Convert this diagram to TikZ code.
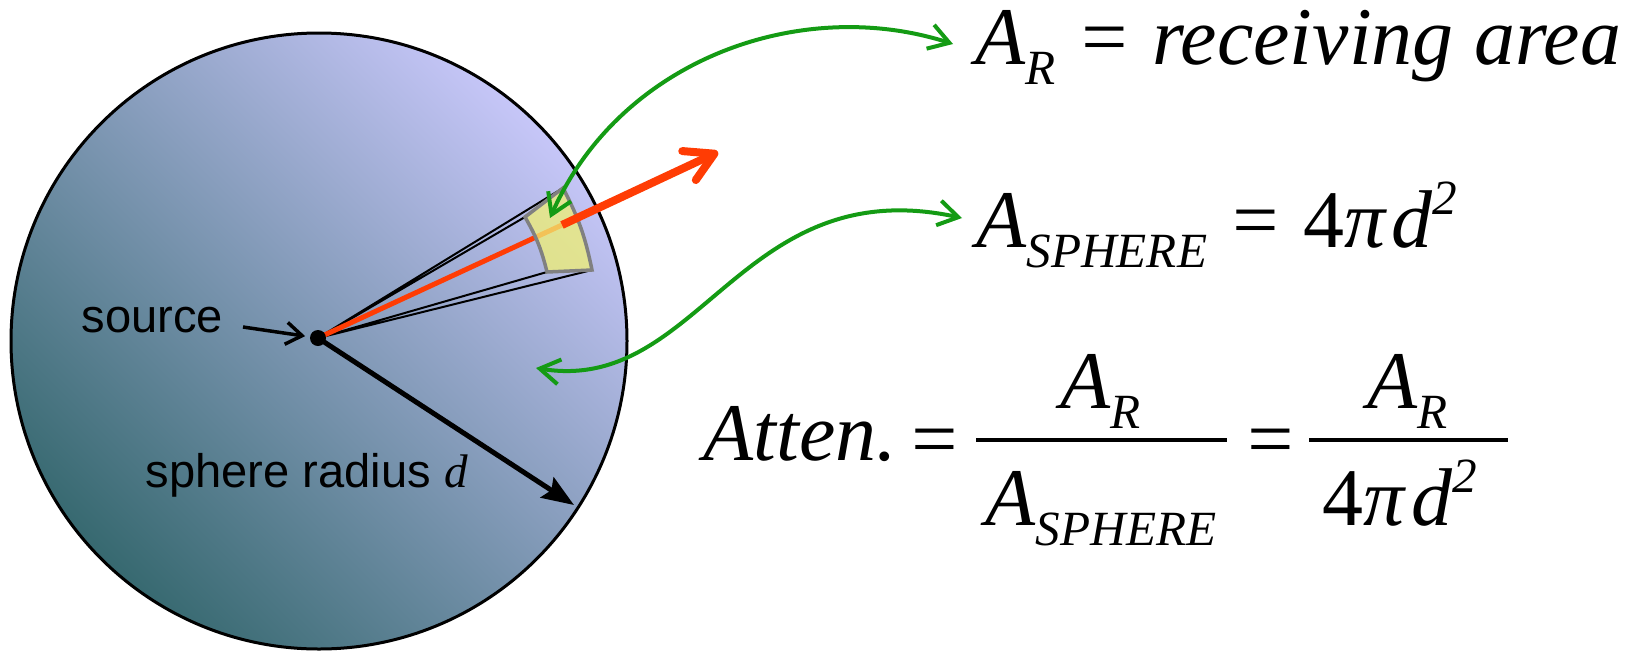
\documentclass[tikz,border=0pt]{standalone}
\usepackage{fontspec}
\setmainfont{Liberation Serif}
\newfontfamily\labelfont{Liberation Sans}
\newfontfamily\eqfont{Liberation Serif}
\usetikzlibrary{arrows.meta}
\definecolor{sphtop}{RGB}{198,198,248}
\definecolor{sphmid}{RGB}{168,176,225}
\definecolor{sphbot}{RGB}{55,105,112}
\definecolor{raycol}{RGB}{255,60,4}
\definecolor{linkcol}{RGB}{20,155,20}
\definecolor{patchcol}{RGB}{240,240,115}
\newcommand{\lowidx}[1]{\raisebox{-0.25em}{\fontsize{14}{16}\selectfont #1}}
\newcommand{\hiidx}[1]{\raisebox{0.4em}{\fontsize{14}{16}\selectfont #1}}
\begin{document}
\begin{tikzpicture}[x=1cm,y=1cm, every node/.style={inner sep=0pt},
  eqtext/.style={font=\eqfont\itshape\fontsize{23.3}{27}\selectfont},
  lbl/.style={font=\labelfont\fontsize{13.4}{16}\selectfont},
  link/.style={linkcol, line width=0.04cm,
    {Straight Barb[length=0.2cm,width=0.25cm]}-{Straight Barb[length=0.2cm,width=0.25cm]}},
  cone/.style={line width=0.02cm}]
  \useasboundingbox (0,0) rectangle (16.39,-6.52);
  \coordinate (C) at (3.19,-3.41);
  \coordinate (S) at (3.18,-3.38);
  \shadedraw[top color=sphtop, middle color=sphmid, bottom color=sphbot,
    shading angle=-45, line width=0.03cm] (C) circle (3.08);
  \coordinate (TL) at (5.25,-2.17);
  \coordinate (TR) at (5.63,-1.88);
  \coordinate (BR) at (5.92,-2.70);
  \coordinate (BL) at (5.47,-2.72);
  \coordinate (M) at (5.62,-2.25);
  \coordinate (T) at (7.18,-1.52);
  \coordinate (E) at (5.74,-5.05);
  \draw[cone] (S) -- (TL) (S) -- (TR) (S) -- (BL) (S) -- (BR);
  \draw[raycol, line width=0.05cm] (S) -- (M);
  \filldraw[fill=patchcol, fill opacity=0.75, draw=gray, line width=0.035cm]
    (TL) -- (TR) to[bend left=8] (BR) -- (BL) to[bend right=8] cycle;
  \draw[raycol, line width=0.08cm, -{Straight Barb[round,length=0.28cm,width=0.32cm]}] (M) -- (T);
  \draw[line width=0.05cm, -{Stealth[length=0.32cm,width=0.24cm,inset=0.05cm]}] (S) -- (E);
  \fill (S) circle (0.08);
  \node[lbl, anchor=base west] (srclbl) at (0.81,-3.32) {source};
  \coordinate (srcA) at (2.43,-3.27);
  \draw[line width=0.035cm, shorten >=0.13cm, -{Straight Barb[length=0.16cm,width=0.22cm]}] (srcA) -- (S);
  \node[lbl, anchor=base west] (radlbl) at (1.45,-4.87) {sphere radius {\eqfont\itshape d}};
  \coordinate (g1) at (5.50,-2.18);
  \coordinate (g1e) at (9.53,-0.44);
  \coordinate (g2) at (5.36,-3.68);
  \coordinate (g2e) at (9.62,-2.18);
  \draw[link] (g1) .. controls (6.20,-0.60) and (8.00,0.05) .. (g1e);
  \draw[link] (g2) .. controls (7.00,-3.95) and (7.40,-1.70) .. (g2e);
  \node[eqtext, anchor=base west] (eqR) at (9.75,-0.64) {A\lowidx{R} = receiving area};
  \node[eqtext, anchor=base west] (eqS) at (9.76,-2.47) {A\lowidx{SPHERE} = \textup{4}π\kern0.08em d\hiidx{2}};
  \node[eqtext, anchor=base west] (att) at (7.03,-4.60) {Atten.};
  \node[eqtext, anchor=base] (eqa) at (9.34,-4.66) {=};
  \draw[line width=0.04cm] (9.76,-4.40) -- (12.27,-4.40);
  \node[eqtext, anchor=base] (num1) at (11.01,-4.08) {A\lowidx{R}};
  \node[eqtext, anchor=base] (den1) at (11.01,-5.25) {A\lowidx{SPHERE}};
  \node[eqtext, anchor=base] (eqb) at (12.70,-4.66) {=};
  \draw[line width=0.04cm] (13.09,-4.40) -- (15.08,-4.40);
  \node[eqtext, anchor=base] (num2) at (14.08,-4.08) {A\lowidx{R}};
  \node[eqtext, anchor=base] (den2) at (14.00,-5.25) {\textup{4}π\kern0.08em d\hiidx{2}};
\end{tikzpicture}
\end{document}
